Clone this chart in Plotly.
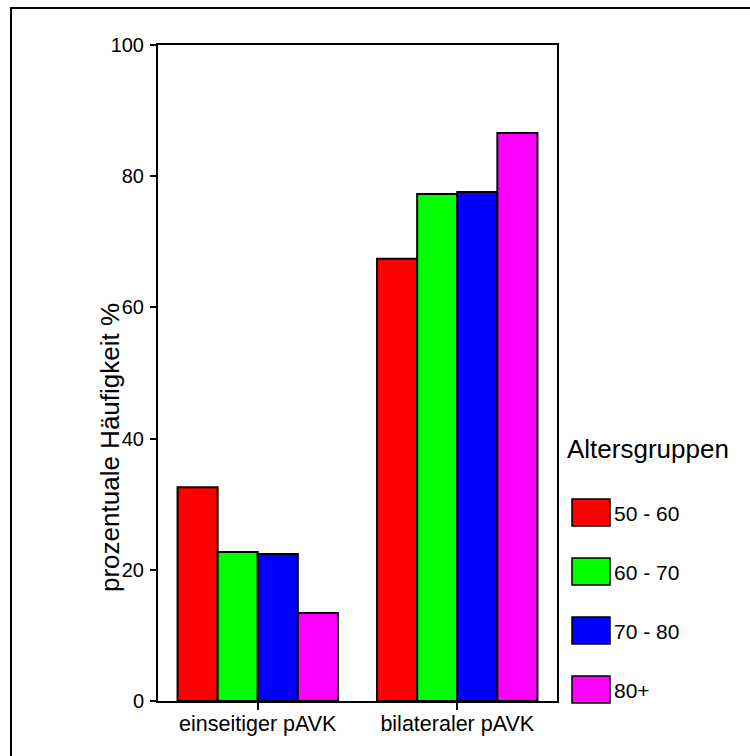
import plotly.graph_objects as go

categories = ["einseitiger pAVK", "bilateraler pAVK"]
groups = ["50 - 60", "60 - 70", "70 - 80", "80+"]
values_50_60 = [32.6, 67.4]
values_60_70 = [22.7, 77.3]
values_70_80 = [22.4, 77.6]
values_80p = [13.4, 86.6]
colors = ["#FF0000", "#00FF00", "#0000FF", "#FF00FF"]
y_ticks = [0, 20, 40, 60, 80, 100]

series = [values_50_60, values_60_70, values_70_80, values_80p]

FONT = "Liberation Sans, Arial, sans-serif"
W, H = 750, 756
L, R, T, B = 158, 557, 45, 701  # plot area in pixels

def px(x):
    return (x - L) / (R - L)

def py(y):
    return (B - y) / (B - T)

fig = go.Figure()
for name, vals, col in zip(groups, series, colors):
    fig.add_trace(go.Bar(
        x=categories, y=vals, name=name,
        marker=dict(color=col, line=dict(color="black", width=2)),
        showlegend=False,
    ))

shapes = []
annotations = []
# outer frame
shapes.append(dict(type="rect", xref="paper", yref="paper",
                   x0=px(11), x1=px(800), y0=py(8), y1=py(800),
                   line=dict(color="black", width=2), fillcolor="rgba(0,0,0,0)", layer="below"))
# y-axis title
annotations.append(dict(text="prozentuale Häufigkeit %", xref="paper", yref="paper",
                        x=px(110), y=py(448), xanchor="center", yanchor="middle", textangle=-90,
                        showarrow=False, font=dict(family=FONT, size=26, color="black")))
# legend title
annotations.append(dict(text="Altersgruppen", xref="paper", yref="paper",
                        x=px(565), y=py(449), xanchor="left", yanchor="middle",
                        showarrow=False, font=dict(family=FONT, size=26, color="black")))
rect_tops = [499, 558, 617, 676]
for name, col, top in zip(groups, colors, rect_tops):
    shapes.append(dict(type="rect", xref="paper", yref="paper",
                       x0=px(572), x1=px(610), y0=py(top), y1=py(top + 27),
                       line=dict(color="black", width=1.5), fillcolor=col))
    annotations.append(dict(text=name, xref="paper", yref="paper",
                            x=px(612), y=py(top + 14), xanchor="left", yanchor="middle",
                            showarrow=False, font=dict(family=FONT, size=21, color="black")))

fig.update_layout(
    width=W, height=H,
    margin=dict(l=L, r=W - R, t=T, b=H - B, pad=0),
    paper_bgcolor="white", plot_bgcolor="white",
    barmode="group", bargap=0.196, bargroupgap=0,
    font=dict(family=FONT, color="black"),
    shapes=shapes, annotations=annotations,
    showlegend=False,
)
fig.update_xaxes(
    range=[-0.5, 1.5], showline=True, linecolor="black", linewidth=2, mirror=True,
    ticks="outside", ticklen=7, tickwidth=2, tickcolor="black",
    tickfont=dict(family=FONT, size=21.5, color="black"), showgrid=False,
    ticklabelstandoff=-5,
)
fig.update_yaxes(
    range=[0, 100], tickvals=y_ticks, showline=True, linecolor="black", linewidth=2, mirror=True,
    ticks="outside", ticklen=6, tickwidth=2, tickcolor="black",
    tickfont=dict(family=FONT, size=20, color="black"), showgrid=False, zeroline=False,
    ticklabelstandoff=2,
)

fig.write_html("out.html", config={"displayModeBar": False},
               post_script="document.body.style.margin='0';document.body.style.overflow='hidden';")
